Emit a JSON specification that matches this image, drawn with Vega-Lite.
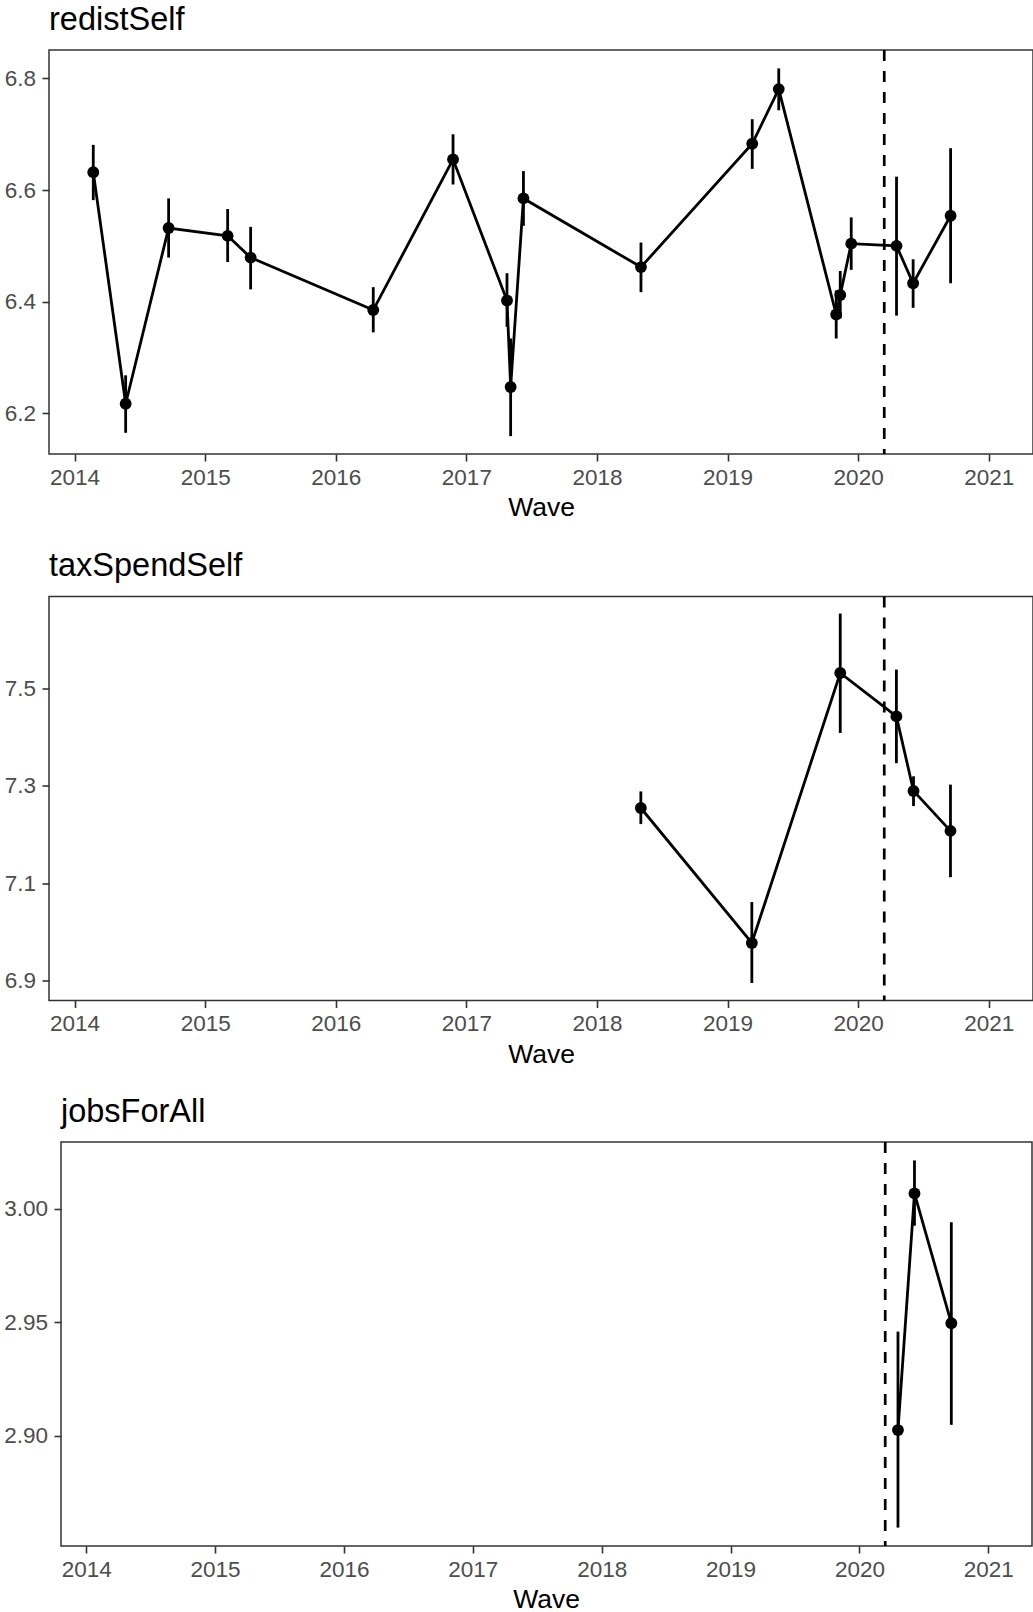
{
  "$schema": "https://vega.github.io/schema/vega-lite/v6.json",
  "background": "white",
  "padding": {"top": 2, "left": 0, "right": 0, "bottom": 0},
  "datasets": {
    "pts": [
      {"item": "redistSelf", "wave": 2014.143, "mean": 6.632, "lo": 6.582, "hi": 6.681},
      {"item": "redistSelf", "wave": 2014.391, "mean": 6.217, "lo": 6.165, "hi": 6.268},
      {"item": "redistSelf", "wave": 2014.720, "mean": 6.532, "lo": 6.479, "hi": 6.585},
      {"item": "redistSelf", "wave": 2015.172, "mean": 6.518, "lo": 6.471, "hi": 6.566},
      {"item": "redistSelf", "wave": 2015.348, "mean": 6.479, "lo": 6.422, "hi": 6.534},
      {"item": "redistSelf", "wave": 2016.287, "mean": 6.385, "lo": 6.345, "hi": 6.426},
      {"item": "redistSelf", "wave": 2016.898, "mean": 6.655, "lo": 6.610, "hi": 6.700},
      {"item": "redistSelf", "wave": 2017.311, "mean": 6.402, "lo": 6.355, "hi": 6.451},
      {"item": "redistSelf", "wave": 2017.339, "mean": 6.247, "lo": 6.159, "hi": 6.334},
      {"item": "redistSelf", "wave": 2017.437, "mean": 6.585, "lo": 6.536, "hi": 6.634},
      {"item": "redistSelf", "wave": 2018.337, "mean": 6.462, "lo": 6.417, "hi": 6.506},
      {"item": "redistSelf", "wave": 2019.189, "mean": 6.683, "lo": 6.638, "hi": 6.727},
      {"item": "redistSelf", "wave": 2019.392, "mean": 6.781, "lo": 6.743, "hi": 6.818},
      {"item": "redistSelf", "wave": 2019.832, "mean": 6.377, "lo": 6.334, "hi": 6.420},
      {"item": "redistSelf", "wave": 2019.863, "mean": 6.412, "lo": 6.370, "hi": 6.455},
      {"item": "redistSelf", "wave": 2019.947, "mean": 6.504, "lo": 6.457, "hi": 6.551},
      {"item": "redistSelf", "wave": 2020.294, "mean": 6.500, "lo": 6.375, "hi": 6.624},
      {"item": "redistSelf", "wave": 2020.421, "mean": 6.433, "lo": 6.389, "hi": 6.476},
      {"item": "redistSelf", "wave": 2020.708, "mean": 6.554, "lo": 6.433, "hi": 6.675},
      {"item": "taxSpendSelf", "wave": 2018.336, "mean": 7.254, "lo": 7.221, "hi": 7.288},
      {"item": "taxSpendSelf", "wave": 2019.186, "mean": 6.977, "lo": 6.895, "hi": 7.061},
      {"item": "taxSpendSelf", "wave": 2019.863, "mean": 7.531, "lo": 7.408, "hi": 7.653},
      {"item": "taxSpendSelf", "wave": 2020.293, "mean": 7.442, "lo": 7.346, "hi": 7.538},
      {"item": "taxSpendSelf", "wave": 2020.424, "mean": 7.289, "lo": 7.258, "hi": 7.319},
      {"item": "taxSpendSelf", "wave": 2020.707, "mean": 7.207, "lo": 7.112, "hi": 7.302},
      {"item": "jobsForAll", "wave": 2020.299, "mean": 2.9026, "lo": 2.8597, "hi": 2.9459},
      {"item": "jobsForAll", "wave": 2020.427, "mean": 3.0067, "lo": 2.9925, "hi": 3.0212},
      {"item": "jobsForAll", "wave": 2020.713, "mean": 2.9496, "lo": 2.9049, "hi": 2.9940}
    ],
    "vline": [{"wave": 2020.2}]
  },
  "spacing": 26.5,
  "vconcat": [
    {
      "title": "redistSelf",
      "width": 984,
      "height": 404,
      "encoding": {
        "x": {"field": "wave", "type": "quantitative", "scale": {"domain": [2013.804, 2021.339], "nice": false, "zero": false}, "axis": {"values": [2014, 2015, 2016, 2017, 2018, 2019, 2020, 2021], "format": "d", "title": "Wave"}}
      },
      "layer": [
        {"data": {"name": "vline"}, "mark": {"type": "rule", "color": "black", "strokeWidth": 2.7, "strokeDash": [11, 10]}, "encoding": {}},
        {"data": {"name": "pts"}, "transform": [{"filter": "datum.item === 'redistSelf'"}], "mark": {"type": "rule", "color": "black", "strokeWidth": 2.8},
         "encoding": {"y": {"field": "lo", "type": "quantitative", "scale": {"domain": [6.127, 6.851], "nice": false, "zero": false}, "axis": {"title": null, "values": [6.2, 6.4, 6.6, 6.8], "format": ".1f", "minExtent": 48, "maxExtent": 48}}, "y2": {"field": "hi"}}},
        {"data": {"name": "pts"}, "transform": [{"filter": "datum.item === 'redistSelf'"}], "mark": {"type": "line", "color": "black", "strokeWidth": 2.8},
         "encoding": {"y": {"field": "mean", "type": "quantitative"}}},
        {"data": {"name": "pts"}, "transform": [{"filter": "datum.item === 'redistSelf'"}], "mark": {"type": "circle", "color": "black", "opacity": 1, "size": 140},
         "encoding": {"y": {"field": "mean", "type": "quantitative"}}}
      ]
    },
    {
      "title": "taxSpendSelf",
      "width": 984,
      "height": 404,
      "encoding": {
        "x": {"field": "wave", "type": "quantitative", "scale": {"domain": [2013.804, 2021.339], "nice": false, "zero": false}, "axis": {"values": [2014, 2015, 2016, 2017, 2018, 2019, 2020, 2021], "format": "d", "title": "Wave"}}
      },
      "layer": [
        {"data": {"name": "vline"}, "mark": {"type": "rule", "color": "black", "strokeWidth": 2.7, "strokeDash": [11, 10]}, "encoding": {}},
        {"data": {"name": "pts"}, "transform": [{"filter": "datum.item === 'taxSpendSelf'"}], "mark": {"type": "rule", "color": "black", "strokeWidth": 2.8},
         "encoding": {"y": {"field": "lo", "type": "quantitative", "scale": {"domain": [6.859, 7.688], "nice": false, "zero": false}, "axis": {"title": null, "values": [6.9, 7.1, 7.3, 7.5], "format": ".1f", "minExtent": 48, "maxExtent": 48}}, "y2": {"field": "hi"}}},
        {"data": {"name": "pts"}, "transform": [{"filter": "datum.item === 'taxSpendSelf'"}], "mark": {"type": "line", "color": "black", "strokeWidth": 2.8},
         "encoding": {"y": {"field": "mean", "type": "quantitative"}}},
        {"data": {"name": "pts"}, "transform": [{"filter": "datum.item === 'taxSpendSelf'"}], "mark": {"type": "circle", "color": "black", "opacity": 1, "size": 140},
         "encoding": {"y": {"field": "mean", "type": "quantitative"}}}
      ]
    },
    {
      "title": {"text": "jobsForAll", "dx": 12},
      "width": 983,
      "height": 404,
      "view": {"stroke": null},
      "encoding": {
        "x": {"field": "wave", "type": "quantitative", "scale": {"domain": [2013.711, 2021.339], "nice": false, "zero": false}, "axis": {"values": [2014, 2015, 2016, 2017, 2018, 2019, 2020, 2021], "format": "d", "title": "Wave", "titleX": 497}}
      },
      "layer": [
        {"data": {"name": "vline"}, "mark": {"type": "rect", "fill": null, "stroke": "#333333", "strokeWidth": 1.5},
         "encoding": {"x": {"datum": 2013.804}, "x2": {"datum": 2021.339}, "y": {"datum": 2.8516}, "y2": {"datum": 3.0293}}},
        {"data": {"name": "vline"}, "mark": {"type": "rule", "color": "black", "strokeWidth": 2.7, "strokeDash": [11, 10]}, "encoding": {}},
        {"data": {"name": "pts"}, "transform": [{"filter": "datum.item === 'jobsForAll'"}], "mark": {"type": "rule", "color": "black", "strokeWidth": 2.8},
         "encoding": {"y": {"field": "lo", "type": "quantitative", "scale": {"domain": [2.8516, 3.0293], "nice": false, "zero": false}, "axis": {"title": null, "values": [2.9, 2.95, 3.0], "format": ".2f", "offset": -12, "minExtent": 60, "maxExtent": 60}}, "y2": {"field": "hi"}}},
        {"data": {"name": "pts"}, "transform": [{"filter": "datum.item === 'jobsForAll'"}], "mark": {"type": "line", "color": "black", "strokeWidth": 2.8},
         "encoding": {"y": {"field": "mean", "type": "quantitative"}}},
        {"data": {"name": "pts"}, "transform": [{"filter": "datum.item === 'jobsForAll'"}], "mark": {"type": "circle", "color": "black", "opacity": 1, "size": 140},
         "encoding": {"y": {"field": "mean", "type": "quantitative"}}}
      ]
    }
  ],
  "config": {
    "font": "Liberation Sans",
    "view": {"stroke": "#333333", "strokeWidth": 1.5},
    "axis": {
      "domain": false, "grid": false,
      "tickColor": "#333333", "tickWidth": 1.6, "tickSize": 7,
      "labelColor": "#4D4D4D", "labelFontSize": 22.5, "labelFont": "Liberation Sans",
      "labelPadding": 5, "labelFlush": false,
      "titleFont": "Liberation Sans", "titleFontSize": 26.5, "titleColor": "black", "titleFontWeight": "normal", "titlePadding": 6
    },
    "axisY": {"labelPadding": 6.5},
    "title": {"anchor": "start", "frame": "group", "fontSize": 32.5, "fontWeight": "normal", "color": "black", "offset": 12.5, "font": "Liberation Sans"}
  }
}
